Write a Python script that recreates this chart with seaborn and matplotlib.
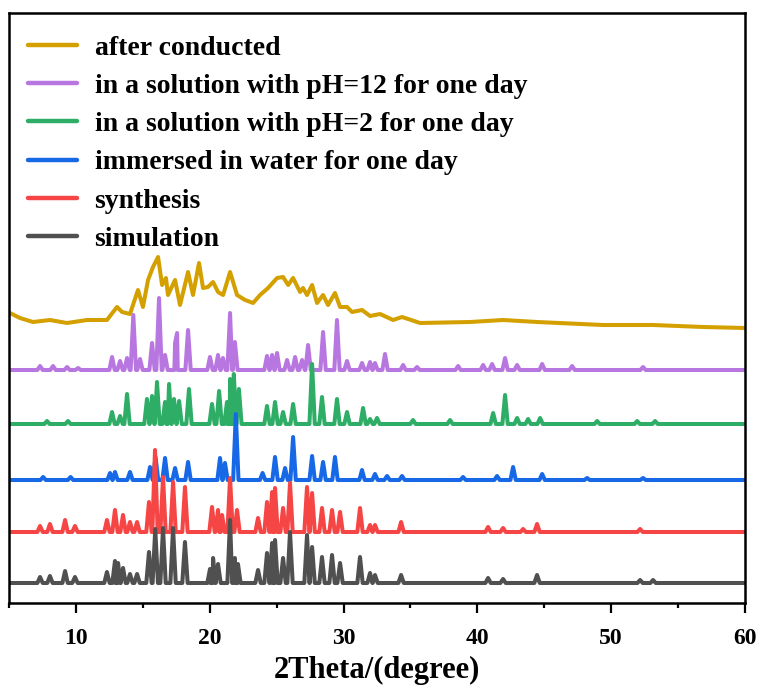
import numpy as np
import pandas as pd
import matplotlib
matplotlib.use("Agg")
import matplotlib.pyplot as plt
import seaborn as sns

# ---------------- data ----------------
labels = ["after conducted",
          "in a solution with pH=12 for one day",
          "in a solution with pH=2 for one day",
          "immersed in water for one day",
          "synthesis",
          "simulation"]
colors = ["#D4A000", "#B877E0", "#2EAD66", "#1768E6", "#F54545", "#505050"]

# stacked offsets (baseline level of each trace, arbitrary units)
sim_base = 20
syn_base = 71
wat_base = 123
ph2_base = 179
ph12_base = 233

sim_pos = [7.32, 8.06, 9.19, 9.93, 12.32, 12.92, 13.15, 13.52, 14.04, 14.57, 15.46, 15.93,
           16.51, 17.26, 18.15, 20.02, 20.25, 20.62, 21.52, 21.88, 22.11, 23.61, 24.28,
           24.66, 24.88, 25.48, 26.00, 27.27, 27.65, 28.39, 29.14, 29.74, 31.23, 31.98,
           32.35, 34.30, 40.80, 41.92, 44.46, 52.16, 53.13]
sim_h = [6, 7, 12, 6, 11, 22, 20, 15, 9, 9, 31, 54, 55, 55, 41, 14, 25, 19, 63, 25, 19,
         13, 30, 40, 43, 25, 51, 48, 36, 26, 28, 20, 26, 10, 8, 8, 5, 4, 8, 3, 3]

syn_pos = [7.32, 8.06, 9.19, 9.93, 12.32, 12.92, 13.52, 14.04, 14.57, 15.46, 15.91, 16.51,
           17.26, 18.15, 20.17, 20.62, 20.92, 21.52, 22.04, 23.61, 24.28, 24.66, 24.88,
           25.48, 26.00, 27.27, 27.65, 28.39, 29.14, 29.74, 31.23, 31.98, 32.35, 34.30,
           40.80, 41.92, 43.42, 44.46, 52.16]
syn_h = [6, 8, 12, 6, 12, 22, 17, 10, 10, 30, 82, 55, 50, 45, 25, 22, 17, 54, 22, 14, 30, 40,
         44, 24, 49, 45, 39, 24, 22, 20, 24, 7, 7, 10, 5, 4, 3, 8, 3]

wat_pos = [7.55, 9.60, 12.55, 12.92, 14.04, 15.54, 15.95, 16.66, 17.41, 18.38, 20.77, 21.14,
           21.95, 23.95, 24.88, 25.63, 26.23, 27.65, 28.47, 29.36, 31.38, 32.35, 33.25,
           34.37, 38.93, 41.47, 42.67, 44.84, 48.20, 52.38]
wat_h = [3, 3, 7, 8, 8, 13, 23, 22, 12, 18, 22, 17, 66, 7, 23, 12, 43, 24, 18, 23, 10, 6, 4,
         4, 3, 4, 13, 6, 2, 2]

ph2_pos = [7.84, 9.41, 12.70, 13.30, 13.82, 15.31, 15.69, 16.06, 16.66, 16.96, 17.33, 17.71,
           18.45, 20.17, 20.70, 21.29, 21.52, 21.80, 22.18, 24.28, 24.88, 25.48, 26.23,
           27.65, 28.39, 29.51, 30.26, 31.46, 31.98, 32.50, 35.19, 37.96, 41.18, 42.07,
           42.97, 43.79, 44.69, 48.95, 51.94, 53.28]
ph2_h = [3, 3, 12, 8, 30, 25, 28, 42, 22, 40, 25, 23, 35, 20, 33, 22, 45, 50, 35, 18, 22, 12,
         20, 60, 27, 25, 12, 16, 5, 6, 4, 4, 11, 29, 6, 5, 6, 3, 3, 3]

ph12_pos = [7.32, 8.29, 9.34, 10.16, 12.70, 13.30, 13.82, 14.29, 14.79, 15.69, 16.21, 16.66,
            17.41, 17.56, 18.38, 20.02, 20.62, 20.99, 21.52, 21.88, 24.28, 24.66, 25.03,
            25.78, 26.38, 26.90, 27.35, 28.47, 29.51, 30.26, 31.38, 31.98, 32.35, 33.10,
            34.45, 35.49, 38.56, 40.43, 41.10, 42.07, 42.97, 44.84, 47.08, 52.38]
ph12_h = [4, 4, 3, 2, 13, 9, 12, 55, 11, 27, 72, 15, 27, 37, 40, 13, 15, 12, 57, 28, 14, 15,
          17, 10, 13, 10, 25, 38, 50, 9, 7, 8, 7, 16, 5, 3, 4, 5, 6, 12, 5, 6, 4, 3]

gold_x = [5.07, 5.82, 6.79, 8.06, 9.33, 10.83, 12.32, 13.07, 13.45, 14.04, 14.64, 15.01,
          15.39, 15.76, 16.14, 16.44, 16.73, 16.88, 17.41, 17.78, 18.38, 18.75, 19.20,
          19.50, 19.87, 20.25, 20.62, 21.00, 21.52, 22.04, 22.64, 23.24, 23.76, 24.36,
          25.03, 25.48, 25.86, 26.23, 26.75, 26.97, 27.27, 27.65, 28.02, 28.47, 28.84,
          29.36, 29.74, 30.26, 30.64, 31.38, 31.98, 32.73, 33.70, 34.37, 35.72, 39.45,
          41.92, 44.46, 49.39, 53.13, 56.87, 60.0]
gold_y = [290, 285, 281, 283, 280, 283, 283, 296, 291, 289, 313, 296, 323, 336, 346, 318,
          325, 308, 323, 298, 331, 308, 340, 315, 316, 321, 311, 308, 331, 308, 303, 300,
          308, 315, 325, 326, 318, 325, 311, 315, 308, 318, 300, 308, 298, 310, 296, 296,
          291, 293, 287, 289, 283, 286, 280, 281, 283, 281, 278, 278, 276, 275]

x_ticks = [10, 20, 30, 40, 50, 60]

# ---------------- build long-form table ----------------
HALF = 0.2  # half width of drawn peak (style)


def spiky(pos, h, base):
    xs = [5.0, 60.0]
    ys = [base, base]
    for p, v in zip(pos, h):
        xs += [p - HALF, p, p + HALF]
        ys += [base, base + v, base]
    order = np.argsort(xs, kind="stable")
    return np.asarray(xs)[order], np.asarray(ys)[order]


frames = []
series = [
    (labels[0], np.asarray(gold_x), np.asarray(gold_y)),
    (labels[1],) + spiky(ph12_pos, ph12_h, ph12_base),
    (labels[2],) + spiky(ph2_pos, ph2_h, ph2_base),
    (labels[3],) + spiky(wat_pos, wat_h, wat_base),
    (labels[4],) + spiky(syn_pos, syn_h, syn_base),
    (labels[5],) + spiky(sim_pos, sim_h, sim_base),
]
for name, xs, ys in series:
    frames.append(pd.DataFrame({"x": xs, "y": ys, "sample": name}))
df = pd.concat(frames, ignore_index=True)

# ---------------- plot ----------------
sns.set_style("white")
plt.rcParams["font.family"] = ["Liberation Serif", "DejaVu Serif"]
plt.rcParams["font.weight"] = "bold"
plt.rcParams["text.color"] = "black"
plt.rcParams["axes.labelcolor"] = "black"
plt.rcParams["xtick.color"] = "black"

fig = plt.figure(figsize=(7.61, 6.88), dpi=100)
ax = fig.add_axes([9 / 761, 1 - 603 / 688, (745 - 9) / 761, (603 - 13) / 688])

sns.lineplot(data=df, x="x", y="y", hue="sample", hue_order=labels,
             palette=colors, estimator=None, sort=False, units="sample",
             linewidth=2.9, ax=ax, legend=True)

ax.set_xlim(5, 60)
ax.set_ylim(0, 590)
ax.set_yticks([])
ax.set_ylabel("")
ax.set_xticks(x_ticks)
ax.set_xticks([5, 15, 25, 35, 45, 55], minor=True)
ax.set_xticklabels([str(t) for t in x_ticks], fontsize=17, fontweight="bold",
                   color="black")
ax.tick_params(axis="x", which="major", direction="out", length=7, width=1.6,
               pad=11, bottom=True, colors="black")
ax.tick_params(axis="x", which="minor", direction="out", length=3.5, width=1.6,
               bottom=True, colors="black")
ax.set_xlabel("2Theta/(degree)", fontsize=22, fontweight="bold", labelpad=5,
              color="black")
for s in ax.spines.values():
    s.set_visible(True)
    s.set_linewidth(1.8)
    s.set_color("black")

leg = ax.legend(loc="upper left", bbox_to_anchor=(-0.0045, 1.0), frameon=False,
                prop={"family": "Liberation Serif", "weight": "bold", "size": 20},
                handlelength=1.75, handletextpad=0.65, labelspacing=0.46,
                borderaxespad=0.2, borderpad=0.6, labelcolor="black")
for ln in leg.get_lines():
    ln.set_linewidth(3.2)

fig.savefig("out.png", dpi=100)
